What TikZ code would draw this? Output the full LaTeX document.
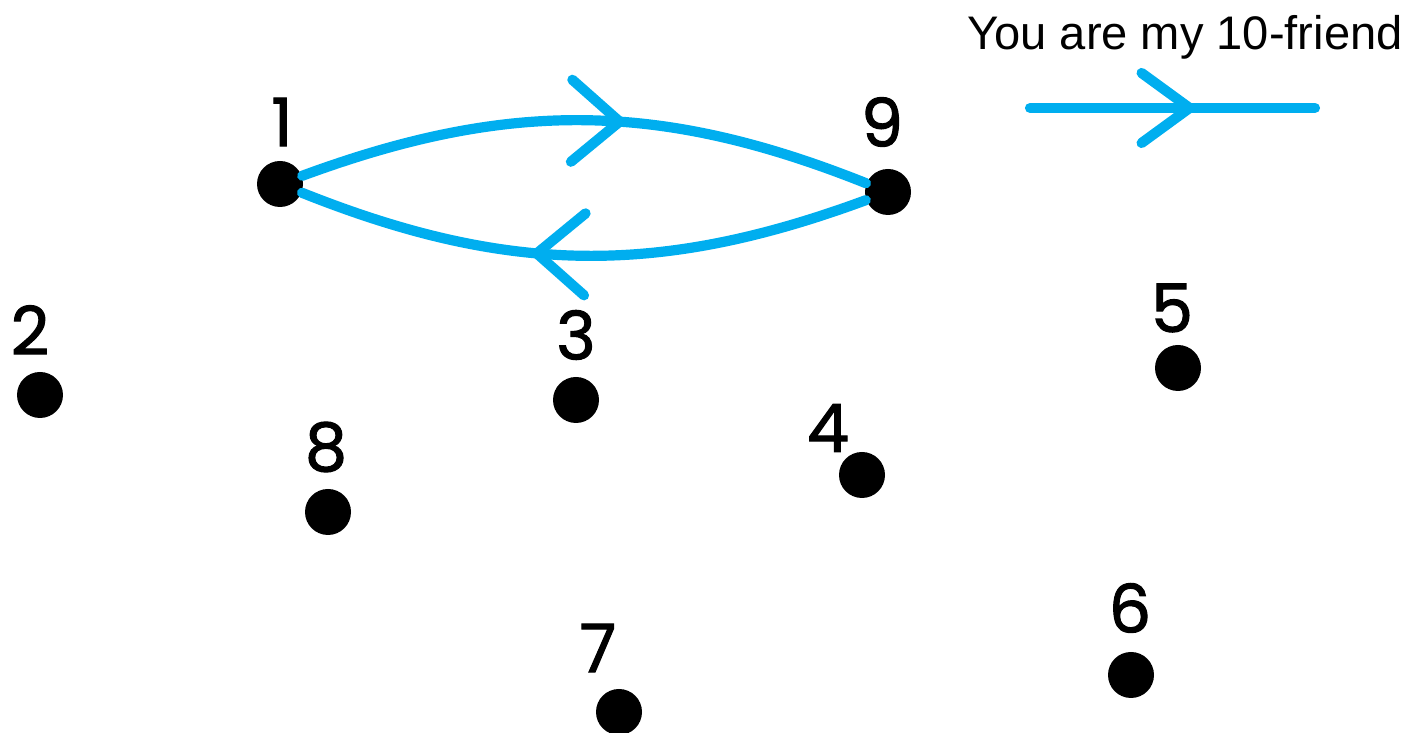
\documentclass[tikz,border=0pt]{standalone}
\usepackage{fontspec}
\setmainfont{Liberation Sans}
\newfontfamily\digitfont[FakeBold=1.6]{Poppins}
\usepackage{tikz}
\usetikzlibrary{decorations.markings}

\definecolor{friendblue}{HTML}{00AEEF}

\begin{document}
\begin{tikzpicture}[
    dot/.style={circle, fill=black, minimum size=4.6mm, inner sep=0pt},
    num/.style={font=\digitfont\fontsize{19}{21}\selectfont, inner sep=0pt},
    friend/.style={draw=friendblue, line width=2.9pt, line cap=round, line join=round},
    chevron/.style n args={3}{postaction={decorate, decoration={markings,
        mark=at position #1 with {\draw[friend, rotate=#2] (-0.48,#3) -- (0,0) -- (-0.48,-#3);}}}}
]
    \useasboundingbox (0,0) rectangle (14.25,7.33);

    % points
    \node[dot] (1) at (2.80,5.49) {};
    \node[dot] (2) at (0.40,3.38) {};
    \node[dot] (3) at (5.76,3.33) {};
    \node[dot] (4) at (8.62,2.58) {};
    \node[dot] (5) at (11.78,3.65) {};
    \node[dot] (6) at (11.31,0.58) {};
    \node[dot] (7) at (6.19,0.21) {};
    \node[dot] (8) at (3.28,2.21) {};
    \node[dot] (9) at (8.88,5.41) {};

    \node[num] (l1) at (2.82,6.11) {1};
    \node[num] (l2) at (0.30,4.03) {2};
    \node[num] (l3) at (5.76,3.98) {3};
    \node[num] (l4) at (8.28,3.05) {4};
    \node[num] (l5) at (11.72,4.25) {5};
    \node[num] (l6) at (11.30,1.25) {6};
    \node[num] (l7) at (5.98,0.85) {7};
    \node[num] (l8) at (3.26,2.86) {8};
    \node[num] (l9) at (8.82,6.11) {9};

    % 10-friends
    \draw[friend, chevron={0.56}{3}{0.41}] (1) to[bend left=21] (9);
    \draw[friend, chevron={0.58}{4}{0.41}] (9) to[bend left=21] (1);

    % key
    \node[font=\fontsize{13.4}{16}\selectfont, inner sep=0pt] (key) at (11.85,6.96) {You are my 10-friend};
    \coordinate (k1) at (10.30,6.25);
    \coordinate (k2) at (13.15,6.25);
    \draw[friend, chevron={0.56}{0}{0.35}] (k1) -- (k2);
\end{tikzpicture}
\end{document}
